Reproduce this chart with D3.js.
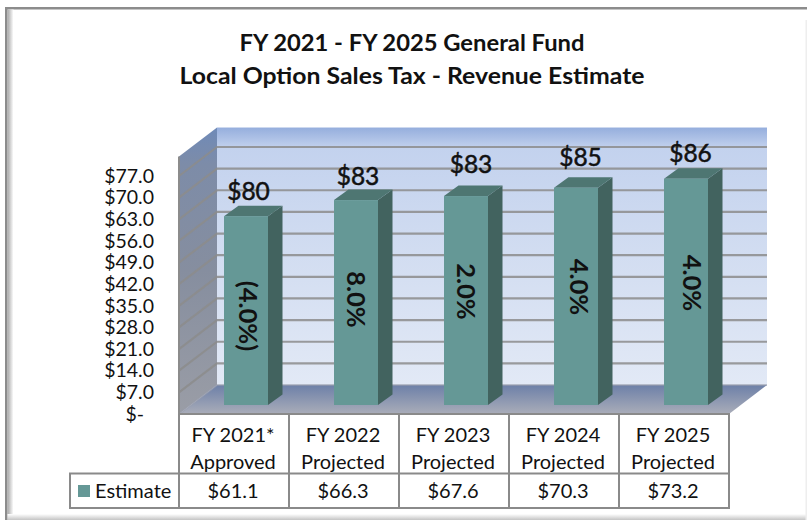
<!DOCTYPE html>
<html><head><meta charset="utf-8">
<script src="https://cdn.jsdelivr.net/npm/d3@7/dist/d3.min.js"></script>
<style>html,body{margin:0;padding:0;background:#fff}svg{display:block}text{font-family:Lato,sans-serif;fill:#111}</style>
</head><body><svg id="c" width="807" height="520"></svg>
<script>
const titleLines = ["FY 2021 - FY 2025 General Fund", "Local Option Sales Tax - Revenue Estimate"];
const categoriesTop = ["FY 2021*", "FY 2022", "FY 2023", "FY 2024", "FY 2025"];
const categoriesBottom = ["Approved", "Projected", "Projected", "Projected", "Projected"];
const estimate = [61.1, 66.3, 67.6, 70.3, 73.2];
const valueLabels = ["$80", "$83", "$83", "$85", "$86"];
const growthLabels = ["(4.0%)", "8.0%", "2.0%", "4.0%", "4.0%"];
const tableLabels = ["$61.1", "$66.3", "$67.6", "$70.3", "$73.2"];
const tickValues = [0, 7, 14, 21, 28, 35, 42, 49, 56, 63, 70, 77];
const seriesName = "Estimate";

// hand-placed label layout (the labels sit freely in the original)
const valueLabelLayout = [[248.5, 200], [358, 185], [471, 173], [580.5, 166], [690.5, 162]];
const growthLabelLayout = [[239, 316], [347, 299.5], [457, 291.5], [570, 287], [683, 283]];

const svg = d3.select("#c");
const defs = svg.append("defs");
function grad(id, stops, x2, y2) {
  const g = defs.append("linearGradient").attr("id", id).attr("x1", 0).attr("y1", 0).attr("x2", x2).attr("y2", y2);
  stops.forEach(s => g.append("stop").attr("offset", s[0]).attr("stop-color", s[1]));
}
grad("wall", [[0, "#95aedd"], [0.08, "#c3d2ee"], [0.5, "#d2ddf1"], [1, "#e2e9f6"]], 0, 1);
grad("side", [[0, "#6f8ab8"], [0.13, "#7d8ca8"], [0.5, "#868e9f"], [1, "#9a9da6"]], 0, 1);
grad("floor", [[0, "#6d80a8"], [1, "#aaadb9"]], 0, 1);
grad("frameL", [[0, "#a8a8a8"], [1, "#ffffff"]], 1, 0);
grad("frameB", [[0, "#ffffff"], [1, "#c4c4c4"]], 0, 1);

// frame
svg.append("rect").attr("x", 5).attr("y", 7).attr("width", 802).attr("height", 2.5).attr("fill", "#8c8c8c");
svg.append("rect").attr("x", 5).attr("y", 7).attr("width", 2.5).attr("height", 513).attr("fill", "#8c8c8c");
svg.append("rect").attr("x", 7.5).attr("y", 9.5).attr("width", 6).attr("height", 510.5).attr("fill", "url(#frameL)");
svg.append("rect").attr("x", 7.5).attr("y", 514).attr("width", 799.5).attr("height", 6).attr("fill", "url(#frameB)");
svg.append("rect").attr("x", 805.5).attr("y", 20).attr("width", 1.5).attr("height", 500).attr("fill", "#eeeeee");

// title
svg.selectAll("text.title").data(titleLines).join("text").attr("class", "title")
  .attr("x", 412).attr("y", (d, i) => 51 + i * 33).attr("text-anchor", "middle")
  .attr("font-size", 22.5).attr("font-weight", 700).attr("textLength", (d, i) => i ? 465 : 345)
  .attr("lengthAdjust", "spacingAndGlyphs").text(d => d);

// scales
const y = d3.scaleLinear().domain([0, 77]).range([414, 176]);
const x = d3.scaleBand().domain(d3.range(estimate.length)).range([179, 729]).paddingInner(0).paddingOuter(0);
const wallDx = 38, wallDy = 29, barDx = 14.5, barDy = 10.5, barOffX = 12, barOffY = 9, barW = 44;
const yTop = y(83.3);
const xL = x.range()[0], xR = x.range()[1];
const pts = a => a.map(p => p.join(",")).join(" ");

// back wall
svg.append("rect").attr("x", xL + wallDx).attr("y", yTop - wallDy).attr("width", xR - xL).attr("height", y(0) - yTop).attr("fill", "url(#wall)");
// left wall
svg.append("polygon").attr("points", pts([[xL, yTop], [xL + wallDx, yTop - wallDy], [xL + wallDx, y(0) - wallDy], [xL, y(0)]])).attr("fill", "url(#side)");
// floor
svg.append("polygon").attr("points", pts([[xL, y(0)], [xL + wallDx, y(0) - wallDy], [xR + wallDx, y(0) - wallDy], [xR, y(0)]])).attr("fill", "url(#floor)");
// gridlines
const grid = svg.append("g").attr("fill", "none").attr("stroke", "#8c8c8c").attr("stroke-width", 2.2);
tickValues.forEach(t => {
  grid.append("polyline").attr("points", pts([[xL, y(t)], [xL + wallDx, y(t) - wallDy], [xR + wallDx, y(t) - wallDy]]))
    .attr("stroke", t === 0 ? "#9a9fae" : "#8c8c8c").attr("opacity", t === 0 ? 0.6 : 0.85);
});
svg.append("line").attr("x1", xL).attr("x2", xL).attr("y1", yTop).attr("y2", y(0)).attr("stroke", "#8c8c8c").attr("stroke-width", 2);

// axis
const axis = svg.append("g").attr("transform", "translate(160,0)")
  .call(d3.axisLeft(y).tickValues(tickValues).tickSize(0).tickPadding(6).tickFormat(d => d === 0 ? "$-\u00a0\u00a0" : "$" + d3.format(".1f")(d)));
axis.select(".domain").remove();
axis.selectAll("text").attr("font-size", 19.5).attr("fill", "#222").style("font-family", "Lato,sans-serif");

// bars
const barX = i => x(i) + (x.bandwidth() - barW) / 2 + barOffX;
const barY = v => y(v) - barOffY;
const base = y(0) - barOffY;
const bars = svg.selectAll("g.bar").data(estimate).join("g").attr("class", "bar");
bars.append("polygon").attr("fill", "#42635f").attr("points", (d, i) => pts([
  [barX(i) + barW, barY(d)], [barX(i) + barW + barDx, barY(d) - barDy], [barX(i) + barW + barDx, base - barDy], [barX(i) + barW, base]]));
bars.append("polygon").attr("fill", "#4e7672").attr("points", (d, i) => pts([
  [barX(i), barY(d)], [barX(i) + barDx, barY(d) - barDy], [barX(i) + barW + barDx, barY(d) - barDy], [barX(i) + barW, barY(d)]]));
bars.append("rect").attr("fill", "#659896").attr("x", (d, i) => barX(i)).attr("y", d => barY(d)).attr("width", barW).attr("height", d => base - barY(d));
bars.append("text").attr("text-anchor", "middle").attr("font-size", 24.5)
  .attr("stroke", "#111").attr("stroke-width", 0.5)
  .attr("x", (d, i) => valueLabelLayout[i][0]).attr("y", (d, i) => valueLabelLayout[i][1]).text((d, i) => valueLabels[i]);
bars.append("text").attr("text-anchor", "middle").attr("font-size", 25.5).attr("font-weight", 700)
  .attr("transform", (d, i) => `translate(${growthLabelLayout[i][0]},${growthLabelLayout[i][1]}) rotate(90)`).text((d, i) => growthLabels[i]);

// data table
const yRow1 = y(0), yRow2 = 473.5, yRow3 = 508, xLeg = 70;
const tbl = svg.append("g").attr("stroke", "#8a8a8a").attr("stroke-width", 2).attr("fill", "none");
tbl.append("path").attr("d", `M${xL},${yRow1}H${xR}V${yRow3}H${xLeg}V${yRow2}H${xR}`);
d3.range(estimate.length).forEach(i => tbl.append("line").attr("x1", x(i)).attr("x2", x(i)).attr("y1", yRow1).attr("y2", yRow3));
const cx = i => x(i) + x.bandwidth() / 2 - 1;
const cell = (arr, yy) => svg.append("g").selectAll("text").data(arr).join("text").attr("x", (d, i) => cx(i)).attr("y", yy)
  .attr("text-anchor", "middle").attr("font-size", 20).attr("fill", "#222").text(d => d);
cell(categoriesTop, 442);
cell(categoriesBottom, 469);
cell(tableLabels, 498);
svg.append("rect").attr("x", 78).attr("y", 485).attr("width", 12).attr("height", 12).attr("fill", "#659896");
svg.append("text").attr("x", 95).attr("y", 497.5).attr("font-size", 20).attr("fill", "#222").text(seriesName);
</script></body></html>
